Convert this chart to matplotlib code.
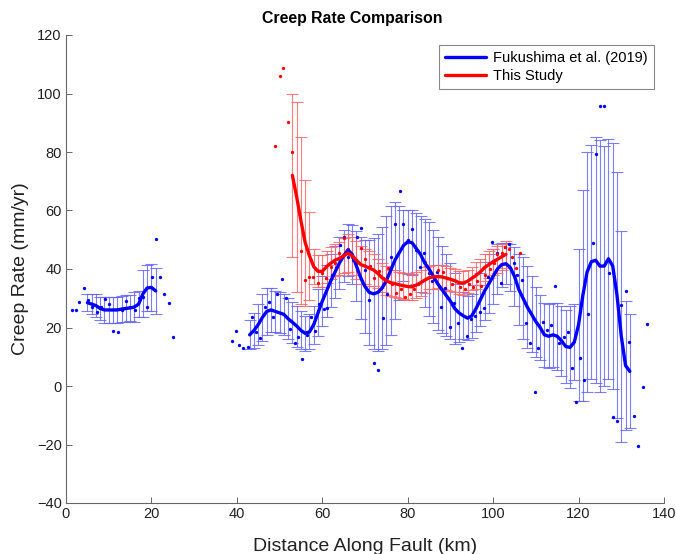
import matplotlib
matplotlib.use("Agg")
import matplotlib.pyplot as plt
import numpy as np

plt.rcParams['font.family'] = ['Liberation Sans', 'DejaVu Sans']

# ---------------- Fukushima et al. (2019) ----------------
# smoothed curve + error bars, segment 1
fk_x1 = [5, 6, 7, 8, 9, 10, 11, 12, 13, 14, 15, 16, 17, 18, 19, 20, 21]
fk_y1 = [28.5, 28, 27.5, 26.5, 26, 26, 26, 26, 26.3, 26.5, 26.7, 27, 28, 31.5, 33.5, 33.7, 32.5]
fk_e1 = [3, 3.5, 4, 4, 4.5, 4.5, 4.5, 4.5, 4.5, 4.5, 4.5, 5, 4.5, 8, 8, 8, 8]

# segment 2
fk_x2 = list(range(43, 133))
fk_y2 = [17.5, 19, 21, 23.5, 25.5, 26, 25.5, 25, 24.5, 23,          # 43-52
         21.8, 20.5, 19, 18, 18.5, 21, 25, 29, 32.5, 36,            # 53-62
         39, 42, 44.5, 46.5, 45, 41, 37, 34, 32, 31.5,              # 63-72
         32, 33.5, 36, 39.5, 43, 45.5, 48, 49.3, 49, 47,            # 73-82
         45, 42, 40, 37.5, 35, 33, 31, 29, 26.5, 25,                # 83-92
         24, 23.2, 24, 26.5, 29.5, 32.5, 35, 37.5, 40, 41.5,        # 93-102
         41.8, 40.5, 37.5, 33, 30, 27, 24.5, 22, 20, 17.5,          # 103-112
         17, 17.5, 17, 15.5, 13.5, 13.2, 15, 21, 31, 39,            # 113-122
         42.5, 43, 41, 41, 43.5, 41, 31, 17, 7, 5]                  # 123-132
fk_e2 = [5, 6, 7, 8, 8, 7.5, 7, 7, 7, 7,
         7, 7, 6.5, 6, 6, 6.5, 8, 8.5, 9, 9,
         9, 9, 9, 9, 10, 12, 14, 16, 18, 19,
         20, 21, 22, 22, 20, 16, 12, 11, 11, 12,
         13, 15, 16, 16, 16, 15, 14, 13, 12, 10,
         8, 7.5, 7.5, 8, 9, 10, 10, 9.5, 8.5, 7.5,
         7, 8, 10, 12, 14, 14, 13, 12, 11, 11,
         11, 11, 11.5, 12, 12.5, 14, 13, 26, 36, 41,
         40, 42, 43, 41, 41, 42, 42, 36, 22, 19.5]

# raw measurements (dots)
fk_dot_x = [1.3, 2.3, 3.1, 4.2, 5.2, 6.2, 7.2, 8.1, 9.1, 10.1, 11.1, 12.1, 13.1, 14.1,
            15.1, 16.1, 17.1, 18.1, 19.0, 20.1, 21.1, 22.0, 23.0, 24.0, 25.0,
            38.8, 39.7, 40.6, 41.5, 42.5, 43.5, 44.5, 45.4, 46.6, 47.5, 48.4, 49.5,
            50.5, 51.5, 52.5, 53.5, 54.4, 55.3, 56.4, 57.3, 58.3, 59.3, 60.3, 61.2,
            62.2, 63.2, 64.2, 65.2, 66.1, 67.1, 68.1, 69.1, 70.0, 71.0, 72.0, 73.0,
            74.1, 75.1, 76.0, 77.0, 78.1, 79.0, 80.0, 81.0, 81.9, 82.9, 83.8, 84.9,
            85.8, 86.8, 87.8, 88.8, 89.8, 90.9, 91.7, 92.8, 93.8, 94.8, 95.8, 96.9,
            97.9, 98.9, 99.8, 100.9, 101.9, 102.8, 103.8, 104.8, 105.7, 106.7, 107.7,
            108.7, 109.7, 110.6, 111.6, 112.6, 113.6, 114.5, 115.5, 116.5, 117.5,
            118.4, 119.4, 120.4, 121.3, 122.3, 123.3, 124.1, 125.1, 126.0, 127.1,
            128.0, 129.1, 130.0, 131.0, 131.9, 133.0, 134.0, 135.0, 136.0]
fk_dot_y = [26, 26, 28.8, 33.4, 29.4, 27, 25.4, 27, 29.7, 28, 18.9, 18.6, 26, 29.2,
            27, 26, 30, 30.3, 26.9, 37.2, 50.3, 37.2, 31.5, 28.3, 16.9,
            15.5, 18.9, 14, 12.9, 13.2, 23.5, 18.6, 16.3, 27.1, 28.6, 23.5, 31.5,
            36.6, 30, 19.4, 14.8, 16.9, 9.1, 17.4, 23.5, 18.9, 28, 26.2, 26.6,
            37.9, 40.2, 48.2, 50.8, 44.2, 43.1, 50.8, 53.9, 39.7, 29.4, 7.8, 5.5,
            23.1, 31.5, 44, 55.3, 66.8, 55.3, 50, 53.6, 46.5, 40.8, 45.6, 38.5,
            36, 39.1, 27.1, 33.4, 20.3, 28.3, 21.4, 12.9, 17.2, 22.8, 24, 25.4,
            26.6, 37.2, 49.3, 45.4, 35.1, 47.4, 48.5, 42, 38, 36.2, 21.4,
            14.8, -1.9, 12.9, 22, 19.1, 20.9, 34.2, 14.6, 16.9, 18.6,
            6, -5.5, 9.5, 2.1, 24.5, 48.8, 79.3, 95.7, 95.7, 38.7,
            -10.7, -12, 27.7, 32.6, 14.9, -10.3, -20.5, -0.2, 21.2]

# ---------------- This Study ----------------
ts_x = list(range(53, 104))
ts_y = [72, 64.7, 56.5, 49, 44.5, 40.8, 39.2, 39.2, 40.8, 42,        # 53-62
        43, 43.6, 44.5, 45.4, 44.5, 43, 41.5, 41, 40.3, 39.7,        # 63-72
        38.5, 37, 36, 35.3, 35, 34.6, 34.3, 34, 33.9, 34.5,          # 73-82
        35.3, 36.2, 37, 37.3, 37.4, 37.3, 36.9, 36.5, 36, 35.3,      # 83-92
        35.2, 35.8, 36.8, 37.8, 39, 40.5, 41.5, 42.5, 43.3, 44.2,    # 93-102
        45]                                                          # 103
ts_e = [28, 32.5, 28.5, 21.5, 15, 6, 5.5, 5.5, 5.5, 5.5,
        5.5, 5.5, 6, 6.5, 6.5, 6.5, 6.5, 6, 6, 5.5,
        5, 5, 5, 4.5, 4.5, 4.5, 4.5, 4.5, 4.5, 4.5,
        4.5, 4.5, 4, 4, 4, 4, 4, 4, 4, 4,
        4, 4, 4, 4.5, 4.5, 4.5, 4.5, 4.5, 4.5, 4.5,
        4.5]
ts_dot_x = [48.9, 50.0, 50.9, 51.9, 52.9, 53.9, 55.0, 55.9, 56.9, 57.9, 58.9, 60.0,
            60.9, 62.0, 63.0, 64.0, 65.0, 66.0, 67.0, 68.0, 69.0, 70.1, 71.1, 72.1,
            73.2, 74.2, 75.5, 76.3, 77.3, 78.4, 79.4, 80.5, 81.5, 82.5, 83.4, 84.1,
            85.2, 86.2, 87.2, 88.3, 89.3, 90.3, 91.3, 92.3, 93.3, 94.3, 95.3, 96.3,
            97.2, 98.2, 99.2, 100.2, 100.9, 102.0, 102.7, 103.6, 104.4, 105.3, 106.3]
ts_dot_y = [82.2, 106, 108.8, 90.1, 80.1, 65.3, 46, 36.2, 37.4, 37.2, 35.3, 38.7,
            36.8, 40.8, 41.9, 45.4, 50.5, 47, 44, 42, 47.1, 43.5, 41, 36.8,
            39.4, 37, 40.4, 35, 31.7, 33, 30.5, 31.3, 33, 35, 36, 42.5,
            39.1, 37, 39.7, 39.1, 37, 35, 36, 34, 33, 35, 34, 36,
            34.2, 38, 40, 42, 45.1, 45.6, 47.4, 47, 44.2, 40.3, 45.6]

BLUE = (0, 0, 1)
RED = (1, 0, 0)
BLUE_ERR = (0.4, 0.4, 1.0)
RED_ERR = (1.0, 0.4, 0.4)

fig = plt.figure(figsize=(6.76, 5.54), dpi=100)
ax = fig.add_axes([66 / 676, 51 / 554, 598 / 676, 468 / 554])

eb_kw = dict(fmt='none', elinewidth=0.8, capsize=4, capthick=0.8, alpha=0.85)
ax.errorbar(fk_x1, fk_y1, yerr=fk_e1, ecolor=BLUE_ERR, **eb_kw)
ax.errorbar(fk_x2, fk_y2, yerr=fk_e2, ecolor=BLUE_ERR, **eb_kw)
ax.errorbar(ts_x, ts_y, yerr=ts_e, ecolor=RED_ERR, **eb_kw)

ax.plot(fk_dot_x, fk_dot_y, 'o', color=BLUE, markersize=2.4, markeredgewidth=0)
ax.plot(ts_dot_x, ts_dot_y, 'o', color=RED, markersize=2.4, markeredgewidth=0)

ax.plot(fk_x1, fk_y1, color=BLUE, lw=2.4, solid_capstyle='round')
l1, = ax.plot(fk_x2, fk_y2, color=BLUE, lw=2.4, solid_capstyle='round',
              label='Fukushima et al. (2019)')
l2, = ax.plot(ts_x, ts_y, color=RED, lw=2.4, solid_capstyle='round', label='This Study')

ax.set_xlim(0, 140)
ax.set_ylim(-40, 120)
ax.set_xticks(np.arange(0, 141, 20))
ax.set_yticks(np.arange(-40, 121, 20))

for s in ['top', 'right']:
    ax.spines[s].set_visible(False)
for s in ['left', 'bottom']:
    ax.spines[s].set_color('#666666')
    ax.spines[s].set_linewidth(0.8)
ax.tick_params(direction='in', length=4, width=0.7, color='#666666',
               labelsize=10.5, labelcolor='#222222', pad=3)

ax.set_title('Creep Rate Comparison', fontsize=11.4, fontweight='bold', x=0.479, pad=9)
ax.set_xlabel('Distance Along Fault (km)', fontsize=14, color='#222222', labelpad=12)
ax.set_ylabel('Creep Rate (mm/yr)', fontsize=14, color='#222222', labelpad=6)

leg = ax.legend(handles=[l1, l2], loc='upper right', fontsize=10.5, handlelength=2.8,
                fancybox=False, framealpha=1, edgecolor='#888888',
                borderpad=0.4, labelspacing=0.25, handletextpad=0.5,
                borderaxespad=0.7)
leg.get_frame().set_linewidth(0.8)

fig.savefig('out.png', dpi=100)
